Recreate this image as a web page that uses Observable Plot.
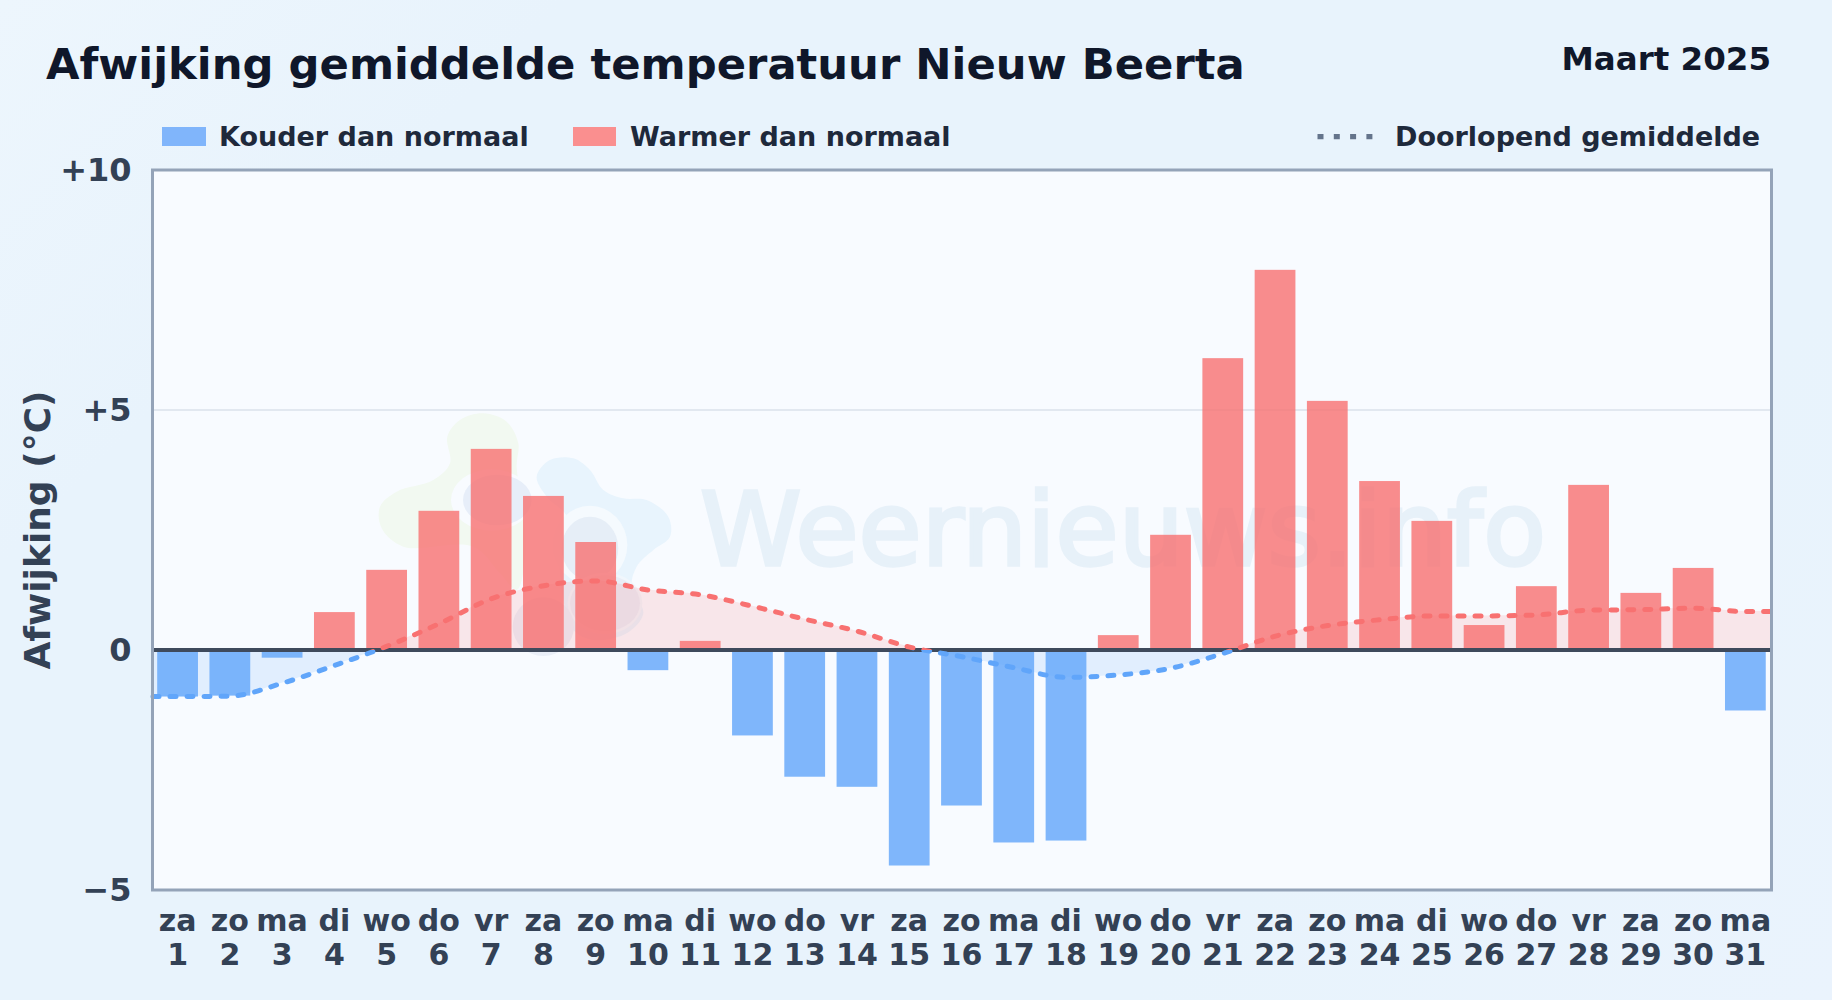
<!DOCTYPE html>
<html lang="nl">
<head>
<meta charset="utf-8">
<title>Afwijking gemiddelde temperatuur Nieuw Beerta</title>
<script src="https://cdn.jsdelivr.net/npm/d3@7"></script>
<script src="https://cdn.jsdelivr.net/npm/@observablehq/plot@0.6"></script>
<style>
  html, body { margin: 0; padding: 0; }
  body {
    width: 1832px; height: 1000px; overflow: hidden;
    font-family: "DejaVu Sans", sans-serif;
    background: linear-gradient(135deg, #edf6fd 0%, #e8f3fc 20%, #e8f3fc 75%, #eaf3fd 100%);
  }
  #head { position: relative; height: 140px; }
  #head > * { position: absolute; white-space: nowrap; }
  #title { left: 46px; top: 37px; font-size: 43.3px; line-height: 54px; font-weight: 700; color: #0f172a; }
  #period { right: 61px; top: 39px; font-size: 32.5px; line-height: 40px; font-weight: 700; color: #0f172a; }
  .lg { top: 119px; font-size: 27px; line-height: 36px; font-weight: 700; color: #1e293b; }
  .sw { top: 127px; height: 19px; }
  #chart svg { display: block; }
</style>
</head>
<body>
<div id="head">
  <div id="title">Afwijking gemiddelde temperatuur Nieuw Beerta</div>
  <div id="period">Maart 2025</div>
  <div class="sw" style="left:162px;width:44px;background:#80b5fb"></div>
  <div class="lg" style="left:219px">Kouder dan normaal</div>
  <div class="sw" style="left:573px;width:43px;background:#fa8f8f"></div>
  <div class="lg" style="left:630px">Warmer dan normaal</div>
  <svg style="left:1316px;top:130px" width="60" height="14"><line x1="1.5" x2="58" y1="6.6" y2="6.6" stroke="#64748b" stroke-width="5.4" stroke-dasharray="6 10.3"/></svg>
  <div class="lg" style="left:1395px">Doorlopend gemiddelde</div>
</div>
<div id="chart"></div>
<script>
const days = [1,2,3,4,5,6,7,8,9,10,11,12,13,14,15,16,17,18,19,20,21,22,23,24,25,26,27,28,29,30,31];
const weekdays = ["za","zo","ma","di","wo","do","vr","za","zo","ma","di","wo","do","vr","za","zo","ma","di","wo","do","vr","za","zo","ma","di","wo","do","vr","za","zo","ma"];
const deviation = [-0.97,-0.95,-0.16,0.79,1.67,2.9,4.19,3.21,2.25,-0.42,0.19,-1.78,-2.64,-2.85,-4.49,-3.24,-4.01,-3.97,0.31,2.4,6.08,7.92,5.19,3.52,2.69,0.52,1.33,3.44,1.19,1.71,-1.26];
const meanDays = [0.52,1,2,3,4,5,6,7,8,9,10,11,12,13,14,15,16,17,18,19,20,21,22,23,24,25,26,27,28,29,30,31,31.5];
const meanValues = [-0.97,-0.97,-0.96,-0.69,-0.32,0.08,0.55,1.07,1.34,1.44,1.25,1.15,0.91,0.64,0.39,0.06,-0.14,-0.37,-0.57,-0.52,-0.38,-0.07,0.29,0.51,0.63,0.71,0.71,0.73,0.83,0.84,0.87,0.80,0.80];
const yTicks = [-5,0,5,10];
const yTickLabels = ["\u22125","0","+5","+10"];

const barHalf = 0.39;
const BLUE = "#60a5fa", RED = "#f87171";
const bars = days.map((d, i) => ({d, v: deviation[i]}));
const mean = meanDays.map((d, i) => ({d, v: meanValues[i]}));

const NS = "http://www.w3.org/2000/svg";
let clipN = 0;
// keeps only the part of a mark that lies on one side of the zero line
const side = sign => (index, scales, values, dims, context, next) => {
  const g = next(index, scales, values, dims, context);
  const id = "clip-side-" + (++clipN);
  const clip = document.createElementNS(NS, "clipPath");
  clip.setAttribute("id", id);
  const r = document.createElementNS(NS, "rect");
  const y0 = scales.y(0);
  r.setAttribute("x", 0);
  r.setAttribute("width", dims.width);
  r.setAttribute("y", sign > 0 ? 0 : y0);
  r.setAttribute("height", sign > 0 ? y0 : dims.height - y0);
  clip.append(r);
  g.append(clip);
  g.setAttribute("clip-path", `url(#${id})`);
  return g;
};

// faint site watermark behind the bars (decoration, not data)
function watermark() {
  const g = document.createElementNS(NS, "g");
  const logo = document.createElementNS(NS, "g");
  logo.setAttribute("transform", "translate(360,260) scale(0.3333)");
  const blob = d3.line().curve(d3.curveCatmullRomClosed.alpha(0.5));
  const addPath = (pts, fill) => {
    const p = document.createElementNS(NS, "path");
    p.setAttribute("d", blob(pts)); p.setAttribute("fill", fill); logo.append(p);
  };
  const addEll = (cx, cy, rx, ry, fill) => {
    const e = document.createElementNS(NS, "ellipse");
    e.setAttribute("cx", cx); e.setAttribute("cy", cy); e.setAttribute("rx", rx); e.setAttribute("ry", ry);
    e.setAttribute("fill", fill); logo.append(e);
  };
  addPath([[262,110],[300,60],[370,40],[440,65],[475,130],[470,200],[490,330],[495,480],[470,570],[420,520],[340,440],[130,440],[65,385],[60,320],[110,275],[220,240],[270,190]], "#f2f9f1");
  addPath([[530,230],[570,180],[640,175],[690,210],[730,270],[790,295],[860,300],[925,350],[930,410],[880,450],[830,500],[815,560],[850,640],[800,700],[700,720],[640,690],[610,600],[600,450],[620,350],[560,290]], "#e8f4fd");
  addEll(395, 300, 122, 92, "#f8fbff");
  addEll(412, 300, 103, 76, "#e7eef9");
  addEll(690, 435, 112, 118, "#f5fafe");
  addEll(690, 445, 85, 95, "#e6eef7");
  addEll(735, 610, 112, 92, "#f0f6fc");
  addEll(735, 610, 105, 84, "#e9edf6");
  addEll(550, 680, 92, 88, "#eaeff8");
  g.append(logo);
  const t = document.createElementNS(NS, "text");
  t.setAttribute("x", 700); t.setAttribute("y", 425);
  t.setAttribute("text-anchor", "start");
  t.setAttribute("font-size", 102);
  t.setAttribute("textLength", 846);
  t.setAttribute("lengthAdjust", "spacingAndGlyphs");
  t.setAttribute("fill", "#e7f1f9");
  t.setAttribute("stroke", "#e7f1f9");
  t.setAttribute("stroke-width", 3.5);
  t.textContent = "Weernieuws.info";
  g.append(t);
  return g;
}

const chart = Plot.plot({
  width: 1832,
  height: 860,
  marginLeft: 152,
  marginRight: 61,
  marginTop: 29.5,
  marginBottom: 110.5,
  style: {background: "transparent", fontFamily: "'DejaVu Sans', sans-serif", overflow: "visible"},
  x: {type: "linear", domain: [0.52, 31.5], label: null},
  y: {domain: [-5, 10], label: null},
  marks: [
    Plot.frame({fill: "#f8fbff", stroke: "none"}),
    watermark,
    Plot.ruleY([5], {stroke: "#e2e8f0", strokeWidth: 2}),
    Plot.areaY(mean, {x: "d", y1: 0, y2: "v", curve: "monotone-x", fill: RED, fillOpacity: 0.15, dx: 0.5, render: side(1)}),
    Plot.areaY(mean, {x: "d", y1: 0, y2: "v", curve: "monotone-x", fill: BLUE, fillOpacity: 0.15, dx: 0.5, render: side(-1)}),
    Plot.rectY(bars, {
      x1: b => b.d - barHalf, x2: b => b.d + barHalf, y1: 0, y2: "v",
      fill: b => b.v < 0 ? BLUE : RED, fillOpacity: 0.8, inset: 0, dx: 0.5, dy: 0.5
    }),
    Plot.ruleY([0], {stroke: "#3f4a5c", strokeWidth: 4}),
    Plot.line(mean, {x: "d", y: "v", curve: "monotone-x", stroke: RED, strokeWidth: 5, strokeDasharray: "6 11", strokeLinecap: "round", dx: 0.5, render: side(1)}),
    Plot.line(mean, {x: "d", y: "v", curve: "monotone-x", stroke: BLUE, strokeWidth: 5, strokeDasharray: "6 11", strokeLinecap: "round", dx: 0.5, render: side(-1)}),
    Plot.frame({stroke: "#94a3b8", strokeWidth: 3}),
    Plot.axisY({
      ticks: yTicks, tickFormat: v => yTickLabels[yTicks.indexOf(v)],
      tickSize: 0, tickPadding: 21, fontSize: 32, fontWeight: 700, fill: "#334155", label: null, dy: 0.5
    }),
    Plot.axisX({
      ticks: days, tickFormat: d => weekdays[d - 1] + "\n" + d,
      tickSize: 0, tickPadding: 16.5, fontSize: 30, fontWeight: 700, fill: "#334155", lineHeight: 1.14, label: null
    }),
    Plot.text(["Afwijking (\u00b0C)"], {
      frameAnchor: "left", dx: -114.5, rotate: -90, fontSize: 36, fontWeight: 700, fill: "#334155", textAnchor: "middle", lineAnchor: "middle"
    })
  ]
});
document.getElementById("chart").append(chart);
</script>
</body>
</html>
